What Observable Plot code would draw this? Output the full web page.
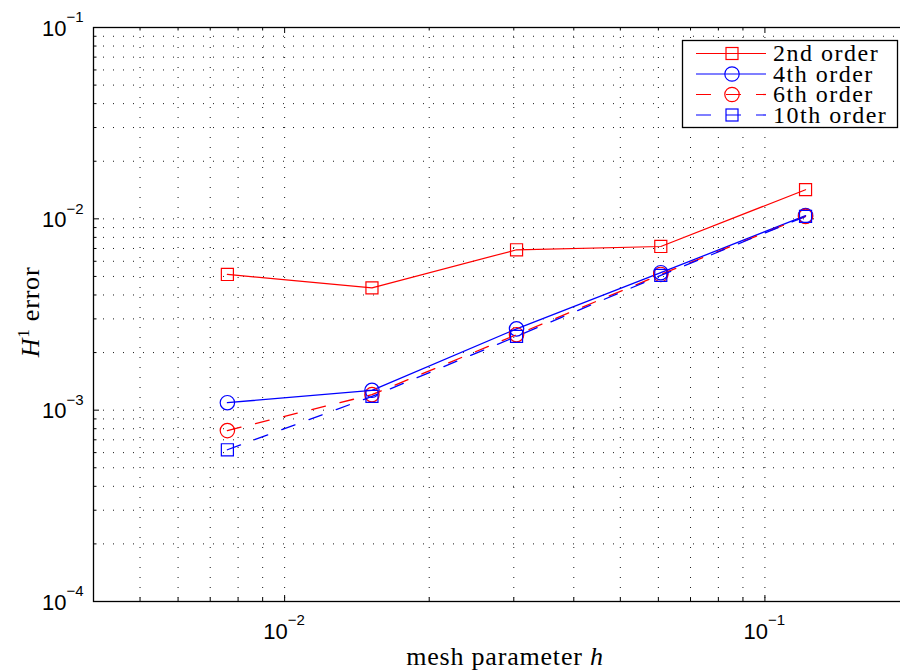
<!DOCTYPE html>
<html><head><meta charset="utf-8">
<script src="https://cdn.jsdelivr.net/npm/d3@7"></script>
<script src="https://cdn.jsdelivr.net/npm/@observablehq/plot@0.6"></script>
<style>
html,body{margin:0;padding:0;background:#fff;overflow:hidden;width:900px;height:671px;}
#chart{width:900px;height:671px;overflow:hidden;}
#chart svg{max-width:none !important;}
</style></head><body><div id="chart"></div>
<script>
// ---- data ----
const h = [0.0076, 0.0152, 0.0304, 0.0607, 0.1215];
const err2nd = [0.00512, 0.00436, 0.00689, 0.00717, 0.0142];
const err4th = [0.001094, 0.00127, 0.00266, 0.00523, 0.0104];
const err6th = [0.000782, 0.001205, 0.00248, 0.00512, 0.0103];
const err10th = [0.000621, 0.00118, 0.00243, 0.00506, 0.0103];
const seriesNames = ["2nd order", "4th order", "6th order", "10th order"];

const xMajor = [0.01, 0.1];
const xMajorExp = ["\u22122", "\u22121"];
const xMinor = [0.004, 0.005, 0.006, 0.007, 0.008, 0.009, 0.02, 0.03, 0.04, 0.05, 0.06, 0.07, 0.08, 0.09, 0.2];
const yMajor = [0.0001, 0.001, 0.01, 0.1];
const yMajorExp = ["\u22124", "\u22123", "\u22122", "\u22121"];
const yMinor = [0.0002, 0.0003, 0.0004, 0.0005, 0.0006, 0.0007, 0.0008, 0.0009,
                0.002, 0.003, 0.004, 0.005, 0.006, 0.007, 0.008, 0.009,
                0.02, 0.03, 0.04, 0.05, 0.06, 0.07, 0.08, 0.09];

// ---- tables ----
const toRows = ys => h.map((x, i) => ({h: x, e: ys[i]}));
const s2 = toRows(err2nd), s4 = toRows(err4th), s6 = toRows(err6th), s10 = toRows(err10th);

const W = 910, H = 671;
const mL = 93, mR = 1, mT = 27, mB = 70;
const pw = W - mL - mR, ph = H - mT - mB;
const RED = "#ff0000", BLUE = "#0000ff";
const grid = {stroke: "#000", strokeOpacity: 0.9, strokeWidth: 1, strokeDasharray: "1,9"};
const sans = "'Liberation Sans', Arial, Helvetica, sans-serif";
const serif = "'Liberation Serif', 'Times New Roman', serif";

const plot = Plot.plot({
  width: W, height: H,
  marginLeft: mL, marginRight: mR, marginTop: mT, marginBottom: mB,
  x: {type: "log", domain: [0.004, 0.2], axis: null},
  y: {type: "log", domain: [1e-4, 1e-1], axis: null},
  style: {fontFamily: sans, background: "#fff", maxWidth: "none"},
  marks: [
    Plot.ruleX([...xMinor, ...xMajor], {x: d => d, ...grid}),
    Plot.ruleY([...yMinor, ...yMajor], {y: d => d, ...grid}),
    // inward ticks
    Plot.tickX(xMajor, {x: d => d, insetTop: ph - 6, stroke: "#000"}),
    Plot.tickX(xMinor, {x: d => d, insetTop: ph - 3.5, stroke: "#000"}),
    Plot.tickX(xMajor, {x: d => d, insetBottom: ph - 6, stroke: "#000"}),
    Plot.tickX(xMinor, {x: d => d, insetBottom: ph - 3.5, stroke: "#000"}),
    Plot.tickY(yMajor, {y: d => d, insetRight: pw - 6, stroke: "#000"}),
    Plot.tickY(yMinor, {y: d => d, insetRight: pw - 3.5, stroke: "#000"}),
    Plot.tickY(yMajor, {y: d => d, insetLeft: pw - 6, stroke: "#000"}),
    Plot.tickY(yMinor, {y: d => d, insetLeft: pw - 3.5, stroke: "#000"}),
    Plot.frame({stroke: "#000", strokeWidth: 1.3}),
    // tick labels
    Plot.text(xMajor, {x: d => d, text: () => "10", frameAnchor: "bottom", textAnchor: "end", lineAnchor: "middle", dx: 3, dy: 30, fontSize: 22, fill: "#000"}),
    Plot.text(xMajor, {x: d => d, text: (d, i) => xMajorExp[i], frameAnchor: "bottom", textAnchor: "start", lineAnchor: "middle", dx: 3, dy: 19, fontSize: 15, fill: "#000"}),
    Plot.text(yMajor, {y: d => d, text: () => "10", frameAnchor: "left", textAnchor: "end", lineAnchor: "middle", dx: -27, dy: 1, fontSize: 22, fill: "#000"}),
    Plot.text(yMajor, {y: d => d, text: (d, i) => yMajorExp[i], frameAnchor: "left", textAnchor: "end", lineAnchor: "middle", dx: -10, dy: -10, fontSize: 15, fill: "#000"}),
    // series
    Plot.line(s2, {x: "h", y: "e", stroke: RED, strokeWidth: 1.2}),
    Plot.dot(s2, {x: "h", y: "e", symbol: "square", r: 6.8, stroke: RED, fill: "none", strokeWidth: 1.2}),
    Plot.line(s4, {x: "h", y: "e", stroke: BLUE, strokeWidth: 1.3}),
    Plot.dot(s4, {x: "h", y: "e", symbol: "circle", r: 7.2, stroke: BLUE, fill: "none", strokeWidth: 1.2}),
    Plot.line(s6, {x: "h", y: "e", stroke: RED, strokeWidth: 1.3, strokeDasharray: "14,15"}),
    Plot.dot(s6, {x: "h", y: "e", symbol: "circle", r: 7.2, stroke: RED, fill: "none", strokeWidth: 1.2}),
    Plot.line(s10, {x: "h", y: "e", stroke: BLUE, strokeWidth: 1.3, strokeDasharray: "14,15"}),
    Plot.dot(s10, {x: "h", y: "e", symbol: "square", r: 6.8, stroke: BLUE, fill: "none", strokeWidth: 1.2})
  ]
});
plot.style.maxWidth = "none";

const svg = d3.select(plot);
// axis labels
const xl = svg.append("text").attr("x", 505).attr("y", 665).attr("text-anchor", "middle")
  .attr("font-family", serif).attr("font-size", 26).attr("letter-spacing", 0.8).attr("fill", "#000");
xl.append("tspan").text("mesh parameter ");
xl.append("tspan").attr("font-style", "italic").text("h");

const yl = svg.append("text").attr("transform", "translate(39,312) rotate(-90)").attr("text-anchor", "middle")
  .attr("font-family", serif).attr("font-size", 26).attr("letter-spacing", 0.8).attr("fill", "#000");
yl.append("tspan").attr("font-style", "italic").text("H");
yl.append("tspan").attr("font-size", 17).attr("dy", -10).text("1");
yl.append("tspan").attr("dy", 10).text(" error");

// legend
const styles = [
  {stroke: RED, dash: null, sym: "square"},
  {stroke: BLUE, dash: null, sym: "circle"},
  {stroke: RED, dash: "15,15", sym: "circle"},
  {stroke: BLUE, dash: "15,15", sym: "square"}
];
const lg = svg.append("g");
lg.append("rect").attr("x", 682.5).attr("y", 40.5).attr("width", 215).attr("height", 87)
  .attr("fill", "#fff").attr("stroke", "#000").attr("stroke-width", 1.3);
const rowY = [53.5, 74, 94.5, 115];
seriesNames.forEach((name, i) => {
  const s = styles[i], y = rowY[i];
  lg.append("line").attr("x1", 696).attr("x2", 766).attr("y1", y).attr("y2", y)
    .attr("stroke", s.stroke).attr("stroke-width", 1.2).attr("stroke-dasharray", s.dash);
  if (s.sym === "square") {
    lg.append("rect").attr("x", 732 - 6).attr("y", y - 6).attr("width", 12).attr("height", 12)
      .attr("fill", "none").attr("stroke", s.stroke).attr("stroke-width", 1.2);
  } else {
    lg.append("circle").attr("cx", 732).attr("cy", y).attr("r", 7.2)
      .attr("fill", "none").attr("stroke", s.stroke).attr("stroke-width", 1.2);
  }
  lg.append("text").attr("x", 773).attr("y", y + 7.5).attr("text-anchor", "start").attr("font-family", serif)
    .attr("font-size", 24).attr("letter-spacing", 1.5).attr("fill", "#000").text(name);
});

document.getElementById("chart").appendChild(plot);
</script>
</body></html>
